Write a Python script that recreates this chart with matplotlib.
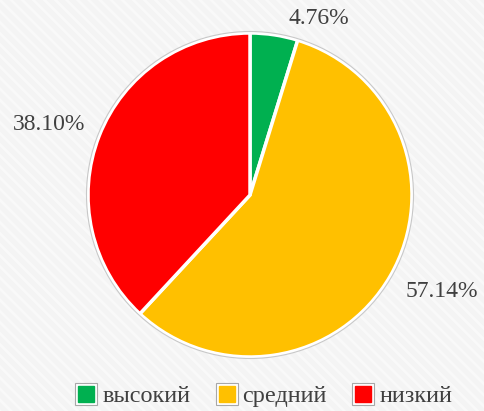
import matplotlib
matplotlib.use('Agg')
import matplotlib.pyplot as plt
from matplotlib.lines import Line2D
from matplotlib.patches import Circle, Rectangle
from matplotlib.legend_handler import HandlerTuple

# данные
categories = ['высокий', 'средний', 'низкий']
values = [4.76, 57.14, 38.10]
colors = ['#00B050', '#FFC000', '#FF0000']
value_labels = ['4.76%', '57.14%', '38.10%']

# положения подписей (доли осей)
label_pos = [(0.659, 0.956), (0.913, 0.290), (0.101, 0.696)]

plt.rcParams['font.family'] = ['Liberation Serif', 'DejaVu Serif']
TXT = '#404040'

W, H = 484, 411
fig = plt.figure(figsize=(W / 100, H / 100), dpi=100, facecolor='#f5f5f5')

# фон с лёгкой диагональной текстурой
plt.rcParams['hatch.linewidth'] = 2.0
bg = Rectangle((0, 0), 1, 1, transform=fig.transFigure, facecolor='#f4f4f4',
               edgecolor='#f9f9f9', hatch='\\\\\\', lw=0, zorder=-5)
fig.patches.append(bg)

ax = fig.add_axes([0, 0, 1, 1])
ax.set_zorder(1)

cx, cy, r = 250, H - 195, 162
wedges, _ = ax.pie(values, colors=colors, startangle=90, counterclock=False,
                   center=(cx, cy), radius=r, frame=True,
                   wedgeprops=dict(edgecolor='white', linewidth=2.5))
ax.add_patch(Circle((cx, cy), r + 1.5, fill=False, edgecolor='#c8c8c8', lw=0.8))

ax.set_xlim(0, W)
ax.set_ylim(0, H)
ax.set_aspect('equal')
ax.axis('off')

for (x, y), t in zip(label_pos, value_labels):
    ax.text(x, y, t, transform=ax.transAxes, fontsize=17, color=TXT,
            ha='center', va='center')

handles = []
for c in colors:
    outer = Line2D([], [], marker='s', ms=16, mfc='white', mec='#a8a8a8', mew=0.8, ls='')
    inner = Line2D([], [], marker='s', ms=12, mfc=c, mec=c, ls='')
    handles.append((outer, inner))

leg = fig.legend(handles, categories, loc='center', bbox_to_anchor=(0.545, 0.036),
                 ncol=3, frameon=False, fontsize=17.5, handlelength=0.9,
                 handletextpad=0.2, columnspacing=1.05,
                 handler_map={tuple: HandlerTuple(ndivide=1, pad=0)})
leg.set_zorder(2)
for t in leg.get_texts():
    t.set_color(TXT)

fig.savefig('out.png', dpi=100, facecolor=fig.get_facecolor())
